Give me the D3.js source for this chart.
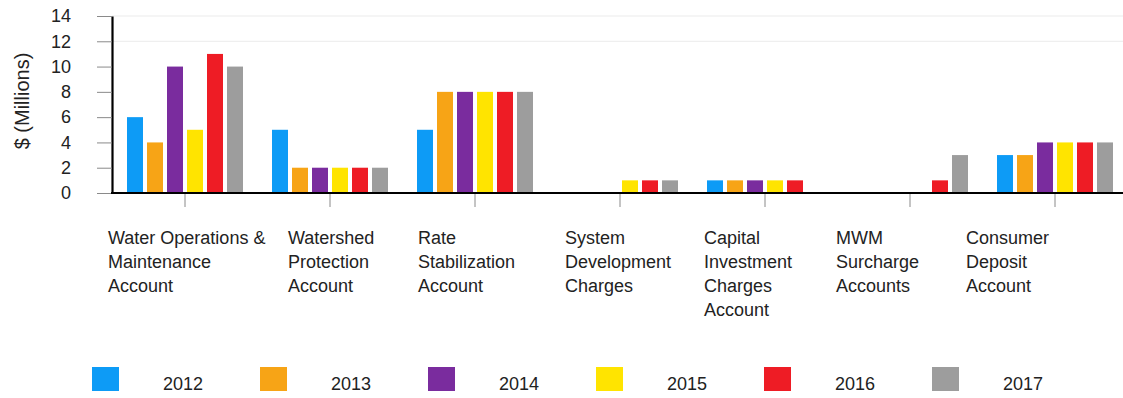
<!DOCTYPE html>
<html>
<head>
<meta charset="utf-8">
<script src="https://cdn.jsdelivr.net/npm/d3@7"></script>
<style>
  html, body { margin: 0; padding: 0; background: #ffffff; }
  svg { display: block; font-family: "Liberation Sans", Arial, sans-serif; }
</style>
</head>
<body>
<svg id="chart" width="1123" height="398"></svg>
<script>
// Fund balances by account, in $ millions
const categories = [
  "Water Operations & Maintenance Account",
  "Watershed Protection Account",
  "Rate Stabilization Account",
  "System Development Charges",
  "Capital Investment Charges Account",
  "MWM Surcharge Accounts",
  "Consumer Deposit Account"
];
const categoryLines = [
  ["Water Operations &", "Maintenance", "Account"],
  ["Watershed", "Protection", "Account"],
  ["Rate", "Stabilization", "Account"],
  ["System", "Development", "Charges"],
  ["Capital", "Investment", "Charges", "Account"],
  ["MWM", "Surcharge", "Accounts"],
  ["Consumer", "Deposit", "Account"]
];
const years = ["2012", "2013", "2014", "2015", "2016", "2017"];
const values2012 = [6, 5, 5, 0, 1, 0, 3];
const values2013 = [4, 2, 8, 0, 1, 0, 3];
const values2014 = [10, 2, 8, 0, 1, 0, 4];
const values2015 = [5, 2, 8, 1, 1, 0, 4];
const values2016 = [11, 2, 8, 1, 1, 1, 4];
const values2017 = [10, 2, 8, 1, 0, 3, 4];
const yTicks = [0, 2, 4, 6, 8, 10, 12, 14];

const seriesValues = [values2012, values2013, values2014, values2015, values2016, values2017];
const colors = ["#0d9bf6", "#f7a416", "#7a2c9e", "#ffe400", "#ee1c25", "#9d9d9d"];

// Layout
const plotLeft = 112, plotRight = 1127.5, plotTop = 16, plotBottom = 193;
// left edge of each wrapped category label, relative to its band centre
const labelShift = [-77, -42, -57, -55, -61, -74, -89];

const svg = d3.select("#chart");

const x0 = d3.scaleBand()
  .domain(categories)
  .range([plotLeft + 0.5, plotRight])
  .paddingInner(0.1724)
  .paddingOuter(0.0862);

const x1 = d3.scaleBand()
  .domain(years)
  .range([0, x0.bandwidth()])
  .paddingInner(0.2)
  .paddingOuter(0.1);

const y = d3.scaleLinear().domain([0, 14]).range([plotBottom, plotTop]);

// faint horizontal gridlines at the upper ticks
svg.append("g")
  .selectAll("line")
  .data([12, 14])
  .join("line")
  .attr("x1", plotLeft)
  .attr("x2", 1123)
  .attr("y1", d => y(d))
  .attr("y2", d => y(d))
  .attr("stroke", "#ebebeb")
  .attr("stroke-width", 1);

// bars
const rows = categories.map((c, i) => ({
  category: c,
  bars: years.map((yr, j) => ({ year: yr, value: seriesValues[j][i], color: colors[j] }))
}));

svg.append("g")
  .selectAll("g")
  .data(rows)
  .join("g")
  .attr("transform", d => `translate(${x0(d.category)},0)`)
  .selectAll("rect")
  .data(d => d.bars.filter(b => b.value > 0))
  .join("rect")
  .attr("x", d => x1(d.year))
  .attr("width", x1.bandwidth())
  .attr("y", d => y(d.value))
  .attr("height", d => y(0) - y(d.value))
  .attr("fill", d => d.color);

// y axis
const yAxis = svg.append("g")
  .attr("transform", `translate(${plotLeft},0)`)
  .call(d3.axisLeft(y).tickValues(yTicks).tickSize(15).tickPadding(26).tickSizeOuter(0));
yAxis.select(".domain").attr("stroke", "#000").attr("stroke-width", 2.2);
yAxis.selectAll(".tick line").attr("stroke", "#8a8a8a").attr("stroke-width", 1);
yAxis.selectAll(".tick text")
  .attr("font-size", 18)
  .attr("fill", "#222")
  .attr("font-family", "'Liberation Sans', Arial, sans-serif");

// x axis baseline and category ticks
const xAxis = svg.append("g")
  .attr("transform", `translate(0,${plotBottom})`)
  .call(d3.axisBottom(x0).tickSize(14).tickSizeOuter(0).tickFormat(""));
xAxis.select(".domain").remove();
xAxis.selectAll(".tick line").attr("stroke", "#8a8a8a").attr("stroke-width", 1);
svg.append("line")
  .attr("x1", plotLeft - 1)
  .attr("x2", 1123)
  .attr("y1", plotBottom)
  .attr("y2", plotBottom)
  .attr("stroke", "#000")
  .attr("stroke-width", 2.2);

// wrapped category labels
const labels = svg.append("g")
  .selectAll("text")
  .data(categories)
  .join("text")
  .attr("x", (d, i) => x0(d) + x0.bandwidth() / 2 + labelShift[i])
  .attr("y", 244)
  .attr("font-size", 18)
  .attr("fill", "#222");
labels.each(function (d, i) {
  const t = d3.select(this);
  categoryLines[i].forEach((line, k) => {
    t.append("tspan")
      .attr("x", t.attr("x"))
      .attr("dy", k === 0 ? 0 : 24)
      .text(line);
  });
});

// y axis title
svg.append("text")
  .attr("transform", "translate(29,101) rotate(-90)")
  .attr("text-anchor", "middle")
  .attr("font-size", 20)
  .attr("fill", "#222")
  .text("$ (Millions)");

// legend
const legend = svg.append("g")
  .selectAll("g")
  .data(years)
  .join("g")
  .attr("transform", (d, i) => `translate(${92 + i * 168},367)`);
legend.append("rect")
  .attr("width", 27)
  .attr("height", 24)
  .attr("fill", (d, i) => colors[i]);
legend.append("text")
  .attr("x", 71)
  .attr("y", 23)
  .attr("font-size", 18)
  .attr("fill", "#222")
  .text(d => d);
</script>
</body>
</html>
